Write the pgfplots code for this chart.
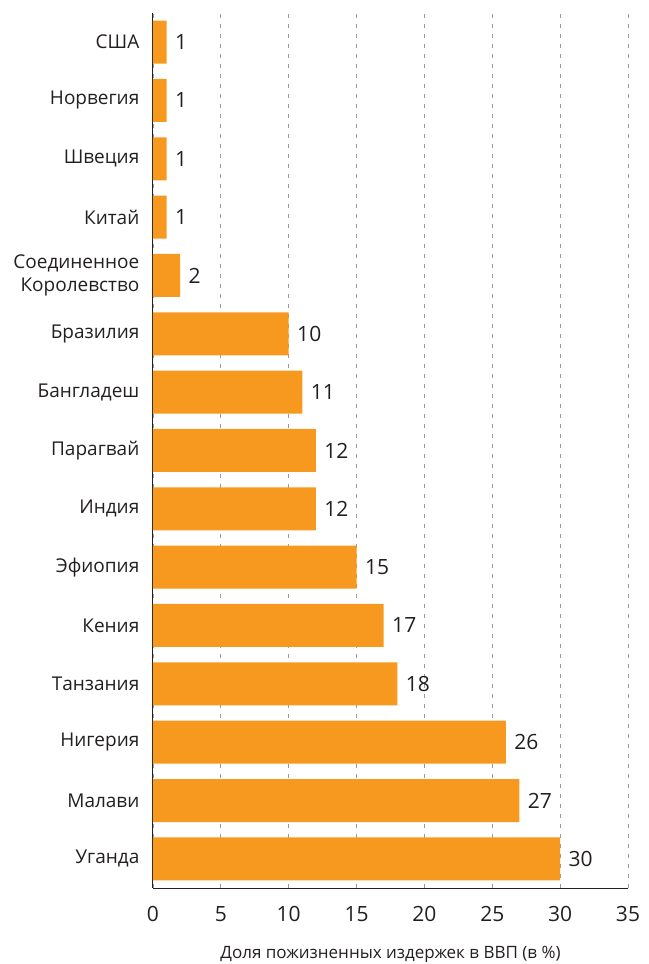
\documentclass[border=0pt]{standalone}
\usepackage{fontspec}
\setmainfont{Open Sans}
\usepackage{pgfplots}
\pgfplotsset{compat=1.18}
\definecolor{barorange}{HTML}{F7991F}
\definecolor{txt}{HTML}{231F20}
\definecolor{gridgray}{HTML}{9A9A9A}

\begin{document}
\begin{tikzpicture}
\begin{axis}[
    xbar,
    scale only axis,
    width=475pt,
    height=875pt,
    xmin=0, xmax=35,
    ymin=-0.5, ymax=14.5,
    bar width=43pt,
    ytick={0,...,14},
    yticklabels={Уганда,Малави,Нигерия,Танзания,Кения,Эфиопия,Индия,Парагвай,Бангладеш,Бразилия,{Соединенное\\Королевство},Китай,Швеция,Норвегия,США},
    yticklabel style={align=right, font=\fontsize{19}{23}\selectfont, text=txt, xshift=-8pt},
    xtick={0,5,...,35},
    xticklabel style={font=\fontsize{21}{25}\selectfont, text=txt, yshift=-13pt},
    /pgf/number format/assume math mode=true,
    xmajorgrids,
    grid style={dash pattern=on 4pt off 6pt, gridgray, line width=0.8pt},
    axis lines=left,
    axis line style={-, txt, line width=1pt},
    tick style={draw=none},
    xlabel={Доля пожизненных издержек в ВВП (в \%)},
    xlabel style={font=\fontsize{17}{20}\selectfont, text=txt, inner sep=0.5pt, yshift=-20pt},
    nodes near coords,
    nodes near coords style={font=\fontsize{21}{25}\selectfont, text=txt, xshift=5pt},
]
\addplot[fill=barorange, draw=none] coordinates {
    (30,0) (27,1) (26,2) (18,3) (17,4) (15,5) (12,6) (12,7)
    (11,8) (10,9) (2,10) (1,11) (1,12) (1,13) (1,14)
};
\end{axis}
% page margins as in the reference
\path ([xshift=-153pt,yshift=13pt]current axis.north west);
\path ([xshift=21pt,yshift=-76pt]current axis.south east);
\end{tikzpicture}
\end{document}
